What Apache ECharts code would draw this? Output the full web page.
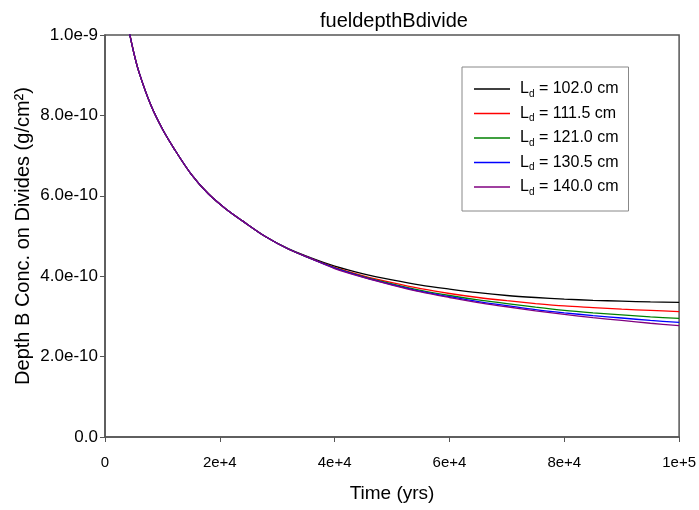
<!DOCTYPE html>
<html><head><meta charset="utf-8">
<script src="https://cdn.jsdelivr.net/npm/echarts@6/dist/echarts.min.js"></script>
<style>html,body{margin:0;padding:0;background:#fff}#c{width:699px;height:510px}</style>
</head><body><div id="c"></div>
<script>
const chartTitle = 'fueldepthBdivide';
const xAxisName = 'Time (yrs)';
const yAxisName = 'Depth B Conc. on Divides (g/cm²)';
const ldNames = ['102.0', '111.5', '121.0', '130.5', '140.0'];
const colors = ['#000000', '#ff0000', '#008000', '#0000ff', '#800080'];
const times = [3000,4000,5000,6000,8000,10000,12000,15000,18000,21000,24000,28000,32000,36000,40000,45000,50000,55000,60000,65000,70000,75000,80000,85000,90000,95000,100000];
const ld102 = [11.2e-10,10.25e-10,9.57e-10,9.04e-10,8.25e-10,7.66e-10,7.18e-10,6.54e-10,6.05e-10,5.68e-10,5.37e-10,4.98e-10,4.68e-10,4.45e-10,4.25e-10,4.06e-10,3.91e-10,3.78e-10,3.68e-10,3.59e-10,3.52e-10,3.47e-10,3.43e-10,3.40e-10,3.38e-10,3.36e-10,3.35e-10];
const ld111 = [11.2e-10,10.25e-10,9.57e-10,9.04e-10,8.25e-10,7.66e-10,7.18e-10,6.54e-10,6.05e-10,5.68e-10,5.37e-10,4.98e-10,4.67e-10,4.43e-10,4.22e-10,4.01e-10,3.84e-10,3.69e-10,3.57e-10,3.47e-10,3.39e-10,3.32e-10,3.26e-10,3.22e-10,3.18e-10,3.15e-10,3.12e-10];
const ld121 = [11.2e-10,10.25e-10,9.57e-10,9.04e-10,8.25e-10,7.66e-10,7.18e-10,6.54e-10,6.05e-10,5.68e-10,5.37e-10,4.98e-10,4.67e-10,4.43e-10,4.21e-10,3.99e-10,3.81e-10,3.65e-10,3.52e-10,3.41e-10,3.32e-10,3.23e-10,3.15e-10,3.09e-10,3.04e-10,2.99e-10,2.95e-10];
const ld130 = [11.2e-10,10.25e-10,9.57e-10,9.04e-10,8.25e-10,7.66e-10,7.18e-10,6.54e-10,6.05e-10,5.68e-10,5.37e-10,4.98e-10,4.67e-10,4.43e-10,4.20e-10,3.98e-10,3.79e-10,3.62e-10,3.49e-10,3.37e-10,3.27e-10,3.17e-10,3.09e-10,3.02e-10,2.96e-10,2.90e-10,2.85e-10];
const ld140 = [11.2e-10,10.25e-10,9.57e-10,9.04e-10,8.25e-10,7.66e-10,7.18e-10,6.54e-10,6.05e-10,5.68e-10,5.37e-10,4.98e-10,4.67e-10,4.43e-10,4.19e-10,3.97e-10,3.78e-10,3.61e-10,3.47e-10,3.34e-10,3.24e-10,3.14e-10,3.05e-10,2.97e-10,2.90e-10,2.83e-10,2.77e-10];
const seriesValues = [ld102, ld111, ld121, ld130, ld140];

const FONT = 'Liberation Sans, Arial, sans-serif';
const chart = echarts.init(document.getElementById('c'), null, {renderer: 'canvas'});
chart.setOption({
  backgroundColor: '#ffffff',
  animation: false,
  title: {text: chartTitle, left: 315, top: 6,
    textStyle: {fontFamily: FONT, fontSize: 20, fontWeight: 'normal', color: '#000'}},
  grid: {left: 105, right: 18, top: 35, bottom: 73, show: true, borderColor: '#555', borderWidth: 1.5},
  legend: {
    orient: 'vertical', left: 462, top: 67,
    padding: [12, 10, 14, 12], itemGap: 4.5,
    itemWidth: 36, itemHeight: 1.5, icon: 'rect',
    borderColor: '#888', borderWidth: 1,
    textStyle: {fontFamily: FONT, fontSize: 16, color: '#000', padding: [0, 0, 0, 5], lineHeight: 20,
      rich: {s: {fontFamily: FONT, fontSize: 10, verticalAlign: 'bottom', lineHeight: 14, color: '#000'}}},
    formatter: function (n) { return 'L{s|d} = ' + n + ' cm'; },
    data: ldNames
  },
  xAxis: {
    type: 'value', min: 0, max: 100000, interval: 20000,
    name: xAxisName, nameLocation: 'middle', nameGap: 47, nameMoveOverlap: false,
    nameTextStyle: {fontFamily: FONT, fontSize: 19, color: '#000'},
    axisLine: {show: true, lineStyle: {color: '#555', width: 1.5}},
    axisTick: {show: true, length: 5, inside: false, lineStyle: {color: '#555'}},
    axisLabel: {fontFamily: FONT, fontSize: 15, color: '#000', margin: 18,
      formatter: function (v) { if (v === 0) return '0'; if (v >= 100000) return '1e+5'; return Math.round(v / 10000) + 'e+4'; }},
    splitLine: {show: false}
  },
  yAxis: {
    type: 'value', min: 0, max: 1e-9, interval: 2e-10,
    name: yAxisName, nameLocation: 'middle', nameGap: 72, nameMoveOverlap: false,
    nameTextStyle: {fontFamily: FONT, fontSize: 20, color: '#000'},
    axisLine: {show: true, lineStyle: {color: '#555', width: 1.5}},
    axisTick: {show: true, length: 5, inside: false, lineStyle: {color: '#555'}},
    axisLabel: {fontFamily: FONT, fontSize: 17, color: '#000', margin: 7,
      formatter: function (v) { const k = Math.round(v * 1e10); if (k === 0) return '0.0'; if (k === 10) return '1.0e-9'; return k.toFixed(1) + 'e-10'; }},
    splitLine: {show: false}
  },
  series: ldNames.map(function (n, i) {
    return {
      name: n, type: 'line', symbol: 'none', smooth: 0.3, clip: true,
      color: colors[i], lineStyle: {color: colors[i], width: 1.3},
      data: times.map(function (t, j) { return [t, seriesValues[i][j]]; })
    };
  })
});
</script></body></html>
